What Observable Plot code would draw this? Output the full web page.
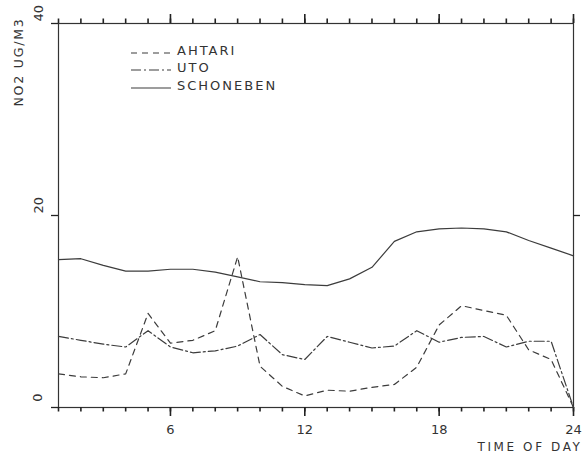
<!DOCTYPE html>
<html>
<head>
<meta charset="utf-8">
<script src="https://cdn.jsdelivr.net/npm/d3@7"></script>
<script src="https://cdn.jsdelivr.net/npm/@observablehq/plot@0.6"></script>
<style>
  html, body { margin: 0; padding: 0; background: #fff; }
  #chart svg { display: block; }
</style>
</head>
<body>
<div id="chart"></div>
<script>
// ---- data ----
const hours = [1,2,3,4,5,6,7,8,9,10,11,12,13,14,15,16,17,18,19,20,21,22,23,24];
const ahtari    = [3.5,3.2,3.1,3.5,9.8,6.7,7.0,8.0,15.7,4.3,2.2,1.2,1.8,1.7,2.1,2.4,4.2,8.6,10.6,10.1,9.6,6.0,5.0,0.0];
const uto       = [7.4,7.0,6.6,6.3,8.0,6.3,5.7,5.9,6.4,7.6,5.5,5.0,7.4,6.8,6.2,6.4,8.0,6.8,7.3,7.4,6.3,6.9,6.9,0.0];
const schoneben = [15.4,15.5,14.8,14.2,14.2,14.4,14.4,14.1,13.6,13.1,13.0,12.8,12.7,13.4,14.6,17.3,18.3,18.6,18.7,18.6,18.3,17.4,16.6,15.8];
const seriesNames = ["AHTARI", "UTO", "SCHONEBEN"];
const xMajorTicks = [6, 12, 18, 24];
const yTicks = [0, 20, 40];
const xTitle = "TIME OF DAY";
const yTitle = "NO2 UG/M3";

// ---- layout & styles ----
const W = 584, H = 464;
const M = { top: 23, right: 11, bottom: 57, left: 58 };
const ink = "#333";
const tickInk = "#222";
const lineInk = "#3c3c3c";
const dashes = { AHTARI: "6,5", UTO: "10,3,2,3", SCHONEBEN: null };
const font = "DejaVu Sans, sans-serif";

const toRows = (vals) => hours.map((h, i) => ({ hour: h, value: vals[i] }));
const rows = { AHTARI: toRows(ahtari), UTO: toRows(uto), SCHONEBEN: toRows(schoneben) };
const xMin = hours[0], xMax = hours[hours.length - 1];
const yMin = yTicks[0], yMax = yTicks[yTicks.length - 1];
// tick lengths expressed in data units (so they go through the scales)
const yPerPx = (yMax - yMin) / (H - M.top - M.bottom);
const xPerPx = (xMax - xMin) / (W - M.left - M.right);
const minorLen = 4.5, majorLen = 9, yTickLen = 7;
const tickW = 1.6;

const plot = Plot.plot({
  width: W,
  height: H,
  marginLeft: M.left,
  marginRight: M.right,
  marginTop: M.top,
  marginBottom: M.bottom,
  style: { fontFamily: font, fontSize: "12px", color: ink, background: "#fff" },
  x: { domain: [xMin, xMax], axis: null },
  y: { domain: [yMin, yMax], axis: null },
  marks: [
    Plot.frame({ stroke: ink, strokeWidth: 1.2 }),
    // bottom ticks (outward)
    Plot.ruleX(hours, { x: d => d, y1: yMin, y2: yMin - minorLen * yPerPx, stroke: tickInk, strokeWidth: tickW }),
    Plot.ruleX(xMajorTicks, { x: d => d, y1: yMin, y2: yMin - majorLen * yPerPx, stroke: tickInk, strokeWidth: tickW }),
    // top ticks (outward)
    Plot.ruleX(hours, { x: d => d, y1: yMax, y2: yMax + minorLen * yPerPx, stroke: tickInk, strokeWidth: tickW }),
    Plot.ruleX(xMajorTicks, { x: d => d, y1: yMax, y2: yMax + majorLen * yPerPx, stroke: tickInk, strokeWidth: tickW }),
    // y ticks left and right (outward)
    Plot.ruleY(yTicks, { y: d => d, x1: xMin, x2: xMin - yTickLen * xPerPx, stroke: tickInk, strokeWidth: 1.3 }),
    Plot.ruleY([20], { y: d => d, x1: xMax, x2: xMax + yTickLen * xPerPx, stroke: tickInk, strokeWidth: 1.3 }),
    // x tick labels
    Plot.text(xMajorTicks, { x: d => d, frameAnchor: "bottom", dy: 26, text: d => String(d), fill: ink, fontSize: 13 }),
    // y tick labels (rotated, starting at the tick)
    Plot.text(yTicks.filter(d => d !== 0), { y: d => d, frameAnchor: "left", dx: -20, dy: -2, rotate: -90, textAnchor: "start", text: d => String(d), fill: ink, fontSize: 13 }),
    Plot.text([0], { y: d => d, frameAnchor: "left", dx: -21, dy: -10, rotate: -90, textAnchor: "middle", text: d => String(d), fill: ink, fontSize: 13 }),
    // axis titles
    Plot.text([xTitle], { frameAnchor: "bottom-right", textAnchor: "end", dx: 9, dy: 43, fill: ink, fontSize: 12 }),
    Plot.text([yTitle], { frameAnchor: "top-left", textAnchor: "end", rotate: -90, dx: -44, dy: -6, fill: ink, fontSize: 12.5 }),
    // series
    ...seriesNames.map(name => Plot.line(rows[name], {
      x: "hour", y: "value", stroke: lineInk, strokeWidth: 1.2,
      strokeDasharray: dashes[name] || undefined
    }))
  ]
});

// letter spacing for the word labels (plotter-style lettering)
d3.select(plot).selectAll("text").each(function() {
  const t = this.textContent || "";
  if (t === xTitle) this.setAttribute("letter-spacing", "2.6px");
  else if (/[A-Z]/.test(t)) this.setAttribute("letter-spacing", "1.8px");
});

// legend inside the plot area (top-left)
const svg = d3.select(plot);
const lg = svg.append("g")
  .attr("font-family", font).attr("font-size", 13).attr("fill", ink)
  .attr("text-anchor", "start");
const legendRows = [55, 72, 90];
seriesNames.forEach((name, i) => {
  const yb = legendRows[i];
  lg.append("line")
    .attr("x1", 131).attr("x2", 171).attr("y1", yb - 2).attr("y2", yb - 2)
    .attr("stroke", lineInk).attr("stroke-width", 1.1)
    .attr("stroke-dasharray", dashes[name] || null);
  lg.append("text").attr("x", 177).attr("y", yb)
    .attr("letter-spacing", "2px").text(name);
});

document.getElementById("chart").append(plot);
</script>
</body>
</html>
